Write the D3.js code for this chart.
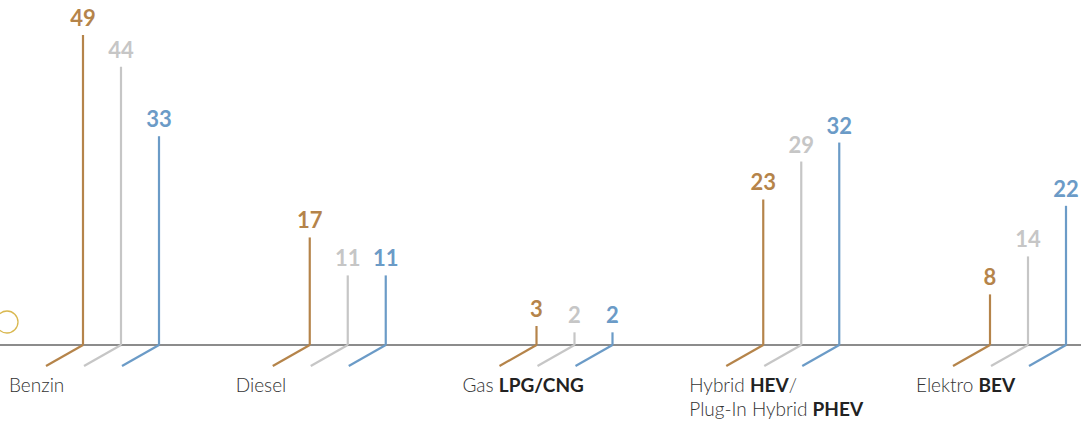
<!DOCTYPE html>
<html>
<head>
<meta charset="utf-8">
<script src="https://cdn.jsdelivr.net/npm/d3@7"></script>
<style>
  html, body { margin: 0; padding: 0; background: #fff; }
  svg { display: block; }
</style>
</head>
<body>
<svg id="chart" width="1081" height="423"></svg>
<script>
const categories = ["Benzin", "Diesel", "Gas LPG/CNG", "Hybrid HEV/Plug-In Hybrid PHEV", "Elektro BEV"];
const categoryLabels = [
  [[{t: "Benzin", b: false}]],
  [[{t: "Diesel", b: false}]],
  [[{t: "Gas ", b: false}, {t: "LPG/CNG", b: true}]],
  [[{t: "Hybrid ", b: false}, {t: "HEV", b: true}, {t: "/", b: false}],
   [{t: "Plug-In Hybrid ", b: false}, {t: "PHEV", b: true}]],
  [[{t: "Elektro ", b: false}, {t: "BEV", b: true}]]
];
const seriesNames = ["Serie 1", "Serie 2", "Serie 3"];
const series1 = [49, 17, 3, 23, 8];
const series2 = [44, 11, 2, 29, 14];
const series3 = [33, 11, 2, 32, 22];
const seriesColors = ["#b5844a", "#c6c6c6", "#6b9bc7"];

const allSeries = [series1, series2, series3];
const data = [];
categories.forEach((c, i) => {
  seriesNames.forEach((s, j) => {
    data.push({cat: c, ser: s, value: allSeries[j][i], color: seriesColors[j]});
  });
});

const svg = d3.select("#chart");
const W = 1081, H = 423;
const baseY = 345;

const x = d3.scalePoint().domain(categories).range([121, 1028]);
const xOff = d3.scalePoint().domain(seriesNames).range([-38, 38]);
const y = d3.scaleLinear().domain([0, 49]).range([baseY, 35]);

// decorative circle on left
svg.append("circle")
  .attr("cx", 7).attr("cy", 322).attr("r", 11)
  .attr("fill", "none").attr("stroke", "#d9b850").attr("stroke-width", 1.3);

// baseline
svg.append("line")
  .attr("x1", 0).attr("x2", W)
  .attr("y1", baseY).attr("y2", baseY)
  .attr("stroke", "#666").attr("stroke-width", 1.5);

const g = svg.append("g");
const px = d => x(d.cat) + xOff(d.ser);

// diagonal feet
g.selectAll("line.foot").data(data).join("line")
  .attr("class", "foot")
  .attr("x1", d => px(d)).attr("y1", y(0))
  .attr("x2", d => px(d) - 37).attr("y2", y(0) + 21)
  .attr("stroke", d => d.color).attr("stroke-width", 2.2);

// vertical stems
g.selectAll("line.stem").data(data).join("line")
  .attr("class", "stem")
  .attr("x1", d => px(d)).attr("x2", d => px(d))
  .attr("y1", y(0)).attr("y2", d => y(d.value))
  .attr("stroke", d => d.color).attr("stroke-width", 2.2);

// value labels
g.selectAll("text.val").data(data).join("text")
  .attr("class", "val")
  .attr("x", d => px(d))
  .attr("y", d => y(d.value) - 9)
  .attr("text-anchor", "middle")
  .attr("font-family", "Lato, 'Open Sans', sans-serif")
  .attr("font-weight", 700)
  .attr("font-size", 22)
  .attr("fill", d => d.color)
  .text(d => d.value);

// category labels
categories.forEach((c, i) => {
  const lx = x(c) + xOff(seriesNames[0]) - 74;
  categoryLabels[i].forEach((line, li) => {
    const t = svg.append("text")
      .attr("x", lx).attr("y", 392 + li * 24)
      .attr("font-family", "Lato, 'Open Sans', sans-serif")
      .attr("font-size", 19)
      .attr("fill", "#333");
    line.forEach(part => {
      t.append("tspan")
        .attr("font-weight", part.b ? 700 : 300)
        .attr("fill", part.b ? "#222" : "#333")
        .text(part.t);
    });
  });
});
</script>
</body>
</html>
